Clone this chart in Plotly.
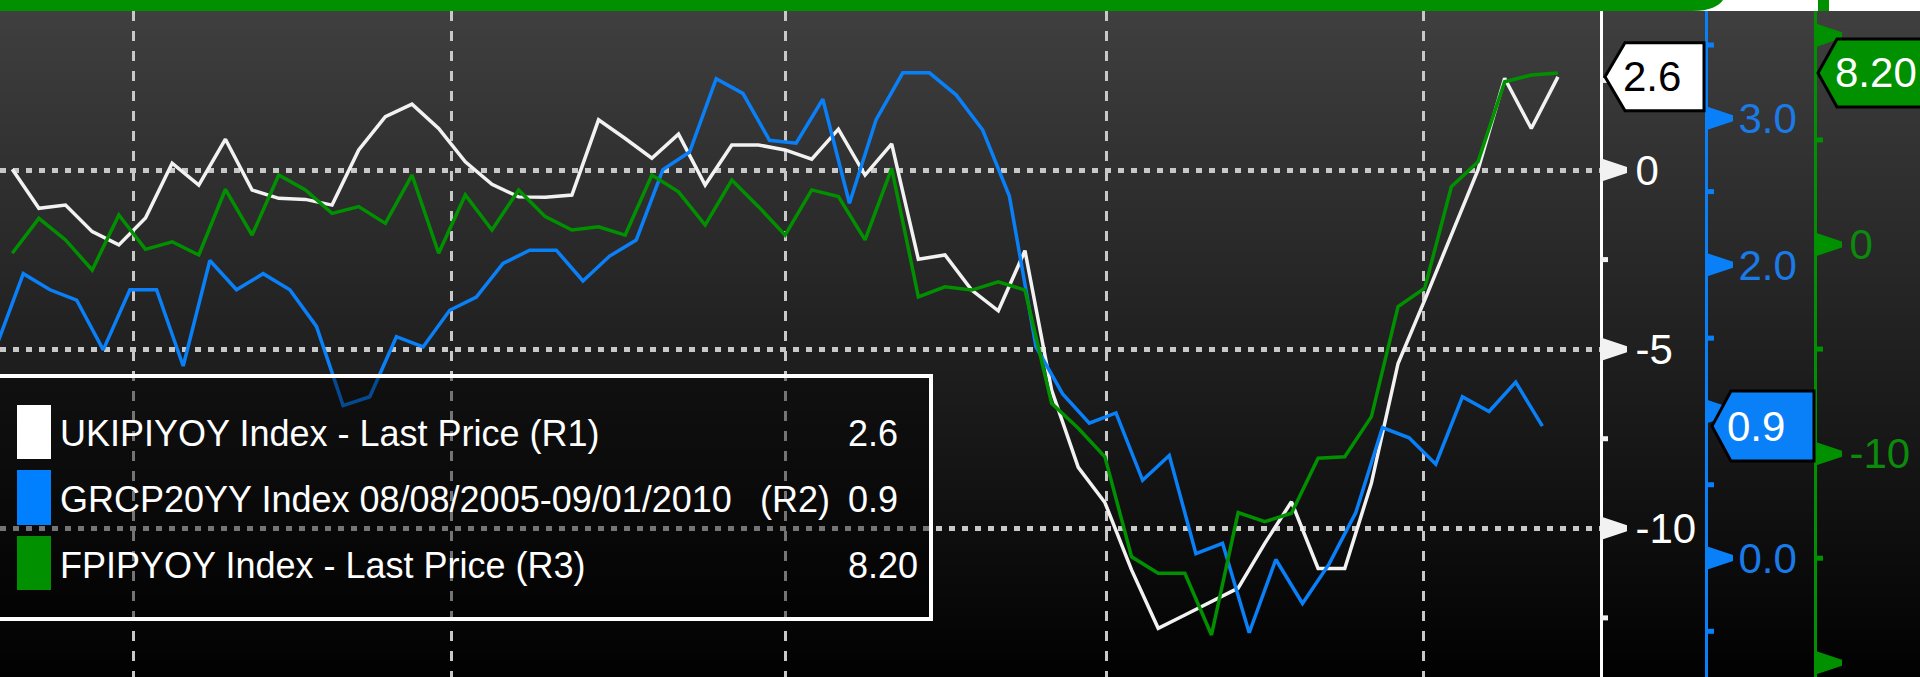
import plotly.graph_objects as go

# ---------------- data ----------------
# month index (monthly observations); the shifted R2 series sits a fraction of a month later
months = list(range(59))
blue_months = list(range(-1, 58))
blue_lag = 0.415

uk_ip = [0.02, -1.07, -0.98, -1.72, -2.09, -1.34, 0.19, -0.42, 0.86, -0.56,
         -0.79, -0.82, -0.98, 0.56, 1.49, 1.84, 1.16, 0.23, -0.40, -0.75,
         -0.76, -0.70, 1.40, 0.88, 0.33, 1.00, -0.42, 0.70, 0.70, 0.56,
         0.30, 1.14, -0.14, 0.73, -2.49, -2.37, -3.35, -3.93, -2.25, -6.14,
         -8.30, -9.28, -11.16, -12.79, -12.42, -12.05, -11.67, -10.42, -9.26, -11.12,
         -11.12, -8.74, -5.40, -3.63, -1.81, 0.00, 2.56, 1.16, 2.60]

gr_cpi = [1.45, 1.94, 1.83, 1.76, 1.42, 1.83, 1.83, 1.31, 2.03, 1.83,
          1.94, 1.83, 1.58, 1.04, 1.10, 1.51, 1.44, 1.69, 1.78, 2.01,
          2.10, 2.10, 1.89, 2.06, 2.17, 2.65, 2.77, 3.27, 3.17, 2.85,
          2.83, 3.13, 2.42, 2.99, 3.31, 3.31, 3.16, 2.92, 2.47, 1.44,
          1.12, 0.92, 0.99, 0.53, 0.70, 0.03, 0.10, -0.51, -0.01, -0.31,
          -0.04, 0.31, 0.89, 0.82, 0.64, 1.10, 1.00, 1.20, 0.90]

fp_ip = [-0.42, 1.25, 0.22, -1.22, 1.41, -0.23, 0.13, -0.50, 2.64, 0.45,
         3.32, 2.61, 1.49, 1.81, 1.01, 3.32, -0.42, 2.37, 0.69, 2.61,
         1.33, 0.69, 0.85, 0.45, 3.32, 2.52, 0.93, 3.08, 1.81, 0.45,
         2.61, 2.29, 0.22, 3.64, -2.50, -2.02, -2.18, -1.78, -2.18, -7.59,
         -8.79, -10.15, -14.93, -15.72, -15.72, -18.67, -12.82, -13.25, -12.85, -10.22,
         -10.15, -8.23, -2.97, -2.09, 2.76, 3.96, 7.78, 8.10, 8.20]

year_marks = [4.54, 16.49, 29.0, 41.06, 52.97]

series_names = ["UKIPIYOY Index - Last Price (R1)",
                "GRCP20YY Index 08/08/2005-09/01/2010",
                "FPIPYOY Index - Last Price (R3)"]
series_suffix = ["", "(R2)", ""]
last_labels = ["2.6", "0.9", "8.20"]

r1_ticks = [-10, -5, 0]
r1_text = ["-10", "-5", "0"]
r1_minor = [-12.5, -7.5, -2.5, 2.5]
r2_ticks = [0, 1, 2, 3]
r2_text = ["0.0", "", "2.0", "3.0"]
r2_minor = [-0.5, 0.5, 1.5, 2.5, 3.5]
r3_ticks = [-20, -10, 0, 10]
r3_text = ["-20", "-10", "0", ""]
r3_minor = [-15, -5, 5]

# ---------------- style ----------------
W, H = 1920, 677
WHITE = "#f2f2f2"
BLUE = "#0a80f8"
GREEN = "#009000"
FONT = "Liberation Sans, Arial, sans-serif"


def px(x):
    return x / W


def py(y):
    return 1 - y / H


fig = go.Figure()
blue_x = [m + blue_lag for m in blue_months]
fig.add_trace(go.Scatter(x=months, y=uk_ip, mode="lines", yaxis="y",
                         line=dict(color=WHITE, width=3.5), name=series_names[0]))
fig.add_trace(go.Scatter(x=blue_x, y=gr_cpi, mode="lines", yaxis="y2",
                         line=dict(color=BLUE, width=3.5), name=series_names[1]))
fig.add_trace(go.Scatter(x=months, y=fp_ip, mode="lines", yaxis="y3",
                         line=dict(color=GREEN, width=3.5), name=series_names[2]))

shapes = []
# background gradient (overlapping bands to avoid seams)
step = 4
for y in range(0, H, step):
    t = max(0.0, (y + step / 2 - 11) / (H - 11))
    g = int(round(63 - 62 * t))
    shapes.append(dict(type="rect", xref="paper", yref="paper", x0=0, x1=1,
                       y0=py(min(y + step + 1, H + 1)), y1=py(y), fillcolor=f"rgb({g},{g},{g})",
                       line=dict(width=0), layer="below"))

# top header bar
shapes.append(dict(type="rect", xref="paper", yref="paper", x0=px(1690), x1=1.01, y0=py(11), y1=1.02,
                   fillcolor="white", line=dict(width=0), layer="above"))
shapes.append(dict(type="rect", xref="paper", yref="paper", x0=-0.01, x1=px(1692), y0=py(11), y1=1.02,
                   fillcolor=GREEN, line=dict(width=0), layer="above"))
shapes.append(dict(type="path", xref="paper", yref="paper",
                   path=f"M{px(1690)},1.02 L{px(1723)},1.02 L{px(1723)},1 C{px(1719)},{py(6)} {px(1710)},{py(11)} {px(1692)},{py(11)} L{px(1690)},{py(11)} Z",
                   fillcolor=GREEN, line=dict(width=0), layer="above"))
shapes.append(dict(type="rect", xref="paper", yref="paper", x0=px(1818), x1=px(1829), y0=py(11), y1=1.02,
                   fillcolor=GREEN, line=dict(width=0), layer="above"))

# axis arrow ticks and minor ticks
ARROW = "M0,-12 L12,-8 L27,-3 L27,3 L12,8 L0,12 Z"
MINOR = "M0,-2.5 L8,-2.5 L8,2.5 L0,2.5 Z"
axes_info = [("y", 1600, WHITE, r1_ticks, r1_minor),
             ("y2", 1706, BLUE, r2_ticks, r2_minor),
             ("y3", 1815, GREEN, r3_ticks, r3_minor)]
for yref, xpix, col, majors, minors in axes_info:
    for v in majors:
        shapes.append(dict(type="path", xref="paper", xsizemode="pixel", xanchor=px(xpix),
                           yref=yref, ysizemode="pixel", yanchor=v, path=ARROW,
                           fillcolor=col, line=dict(width=0), layer="above"))
    for v in minors:
        shapes.append(dict(type="path", xref="paper", xsizemode="pixel", xanchor=px(xpix),
                           yref=yref, ysizemode="pixel", yanchor=v, path=MINOR,
                           fillcolor=col, line=dict(width=0), layer="above"))

# last value tags
tags = [("y", 1600, uk_ip[-1], "white", "black", "M5,0 L25,34 L104,34 L104,-34 L25,-34 Z", 1652, last_labels[0]),
        ("y2", 1706, gr_cpi[-1], BLUE, "white", "M6,0 L25,35 L108,35 L108,-35 L25,-35 Z", 1756, last_labels[1]),
        ("y3", 1815, fp_ip[-1], GREEN, "white", "M3,0 L22,34 L125,34 L125,-34 L22,-34 Z", 1876, last_labels[2])]
annotations = []
for yref, xpix, val, fill, tcol, path, tx, label in tags:
    shapes.append(dict(type="path", xref="paper", xsizemode="pixel", xanchor=px(xpix),
                       yref=yref, ysizemode="pixel", yanchor=val, path=path,
                       fillcolor=fill, line=dict(color="black", width=3), layer="above"))
    annotations.append(dict(xref="paper", yref=yref, x=px(tx), y=val, text=label, showarrow=False,
                            xanchor="center", yanchor="middle",
                            font=dict(family=FONT, size=42, color=tcol)))

# legend box
shapes.append(dict(type="rect", xref="paper", yref="paper", x0=px(-10), x1=px(931), y0=py(619), y1=py(376),
                   fillcolor="rgba(0,0,0,0.42)", line=dict(color="white", width=4), layer="above"))
swatch_cols = ["white", "#0080ff", GREEN]
swatch_y = [(405, 459), (470, 525), (536, 590)]
row_y = [433, 499, 565]
for col, (a, b) in zip(swatch_cols, swatch_y):
    shapes.append(dict(type="rect", xref="paper", yref="paper", x0=px(17), x1=px(51), y0=py(b), y1=py(a),
                       fillcolor=col, line=dict(width=0), layer="above"))
LFONT = dict(family=FONT, size=36, color="white")
for name, suf, lab, ry in zip(series_names, series_suffix, last_labels, row_y):
    annotations.append(dict(xref="paper", yref="paper", x=px(58), y=py(ry), text=name, showarrow=False,
                            xanchor="left", yanchor="middle", font=LFONT))
    if suf:
        annotations.append(dict(xref="paper", yref="paper", x=px(758), y=py(ry), text=suf, showarrow=False,
                                xanchor="left", yanchor="middle", font=LFONT))
    annotations.append(dict(xref="paper", yref="paper", x=px(846), y=py(ry), text=lab, showarrow=False,
                            xanchor="left", yanchor="middle", font=LFONT))

ydom = [0, py(11)]
TICKF = 42
fig.update_layout(
    width=W, height=H, margin=dict(l=0, r=0, t=0, b=0),
    paper_bgcolor="black", plot_bgcolor="rgba(0,0,0,0)", showlegend=False,
    xaxis=dict(domain=[0, px(1600)], range=[-0.4597, 59.578], showgrid=True,
               gridcolor="#c8c8c8", gridwidth=3, griddash="10px,10px",
               tickmode="array", tickvals=year_marks, showticklabels=False, ticks="",
               zeroline=False, showline=False),
    yaxis=dict(domain=ydom, range=[-14.15, 4.438], side="right", showline=True,
               linecolor="white", linewidth=3, showgrid=True, gridcolor="#c8c8c8",
               gridwidth=5, griddash="6px,7px", tickmode="array", tickvals=r1_ticks,
               ticktext=r1_text, ticks="", ticklabelstandoff=24, zeroline=False,
               tickfont=dict(family=FONT, size=TICKF, color="white")),
    yaxis2=dict(domain=ydom, range=[-0.8118, 3.732], side="right", overlaying="y",
                anchor="free", position=px(1706), showline=True, linecolor=BLUE, linewidth=3,
                showgrid=False, zeroline=False, tickmode="array", tickvals=r2_ticks,
                ticktext=r2_text, ticks="", ticklabelstandoff=22,
                tickfont=dict(family=FONT, size=TICKF, color="#1a7ae8")),
    yaxis3=dict(domain=ydom, range=[-20.679, 11.164], side="right", overlaying="y",
                anchor="free", position=px(1815), showline=True, linecolor=GREEN, linewidth=3,
                showgrid=False, zeroline=False, tickmode="array", tickvals=r3_ticks,
                ticktext=r3_text, ticks="", ticklabelstandoff=24,
                tickfont=dict(family=FONT, size=TICKF, color="#0c8a0c")),
    shapes=shapes, annotations=annotations,
)

fig.write_html("out.html", config={"displayModeBar": False},
               post_script="document.body.style.margin='0px'; document.body.style.background='black';")
